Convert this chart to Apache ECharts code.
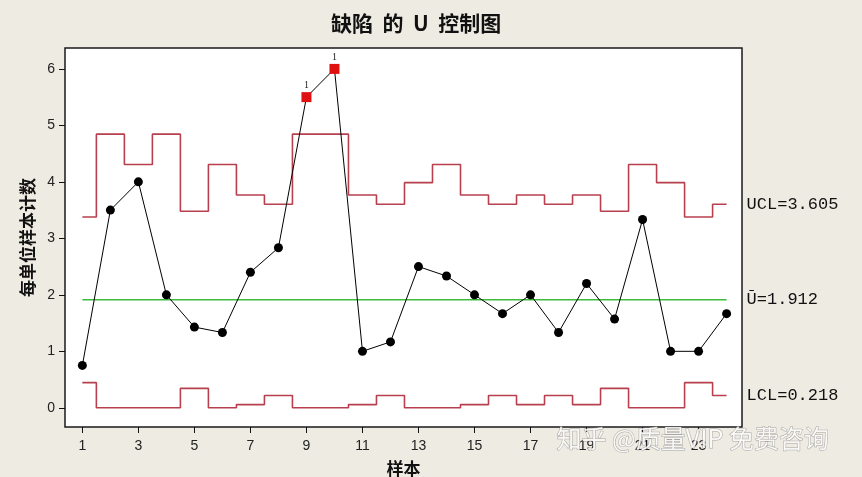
<!DOCTYPE html>
<html>
<head>
<meta charset="utf-8">
<script src="https://cdn.jsdelivr.net/npm/echarts@6/dist/echarts.min.js"></script>
<style>
html,body{margin:0;padding:0;background:#EEEBE2;}
#chart{width:862px;height:477px;}
</style>
</head>
<body>
<div id="chart"></div>
<script>
const samples = [1,2,3,4,5,6,7,8,9,10,11,12,13,14,15,16,17,18,19,20,21,22,23,24];
const uValues = [0.75,3.5,4.0,2.0,1.429,1.333,2.4,2.833,5.5,6.0,1.0,1.167,2.5,2.333,2.0,1.667,2.0,1.333,2.2,1.571,3.333,1.0,1.0,1.667];
const uclValues = [3.379,4.845,4.307,4.845,3.480,4.307,3.767,3.605,4.845,4.845,3.767,3.605,3.986,4.307,3.767,3.605,3.767,3.605,3.767,3.480,4.307,3.986,3.379,3.605];
const lclValues = [0.445,0,0,0,0.344,0,0.057,0.218,0,0,0.057,0.218,0,0,0.057,0.218,0.057,0.218,0.057,0.344,0,0,0.445,0.218];
const centerValues = [1.912,1.912,1.912,1.912,1.912,1.912,1.912,1.912,1.912,1.912,1.912,1.912,1.912,1.912,1.912,1.912,1.912,1.912,1.912,1.912,1.912,1.912,1.912,1.912];
const flaggedSamples = [9, 10];
const xTickLabels = [1,3,5,7,9,11,13,15,17,19,21,23];
const yTickLabels = [0,1,2,3,4,5,6];

const chart = echarts.init(document.getElementById('chart'), null, {renderer:'canvas'});

const pts = samples.map((s, i) => {
  const flagged = flaggedSamples.indexOf(s) >= 0;
  if (!flagged) return [s, uValues[i]];
  return {
    value: [s, uValues[i]],
    symbol: 'rect',
    symbolSize: 10,
    itemStyle: {color: '#E01010'},
    label: {show: true, formatter: '1', position: 'top', distance: 2, fontSize: 10, color: '#222', fontFamily: 'Liberation Serif'}
  };
});

const monoLabel = (text) => ({
  show: true,
  formatter: text,
  distance: 20,
  fontFamily: 'Liberation Mono',
  fontSize: 17,
  color: '#111',
  align: 'left'
});

const option = {
  backgroundColor: '#EEEBE2',
  animation: false,
  title: {
    text: '缺陷  的  U  控制图',
    left: 326, top: 8,
    textStyle: {fontFamily: 'Noto Sans CJK SC', fontWeight: 'bold', fontSize: 21, color: '#111'}
  },
  grid: {
    left: 65, top: 48, width: 677, height: 379,
    outerBoundsMode: 'none', containLabel: false,
    show: true, backgroundColor: '#FFFFFF', borderColor: '#1a1a1a', borderWidth: 1.5
  },
  xAxis: {
    type: 'value', min: 0.38, max: 24.55,
    name: '样本', nameLocation: 'middle', nameGap: 33,
    nameTextStyle: {fontFamily: 'Noto Sans CJK SC', fontWeight: 'bold', fontSize: 17, color: '#111'},
    axisLine: {show: false, onZero: false},
    axisTick: {show: true, inside: false, length: 6, customValues: xTickLabels, lineStyle: {color: '#111', width: 1}},
    axisLabel: {customValues: xTickLabels, margin: 12, fontFamily: 'Liberation Sans', fontSize: 14, color: '#222'},
    splitLine: {show: false}
  },
  yAxis: {
    type: 'value', min: -0.34, max: 6.37,
    name: '每单位样本计数', nameLocation: 'middle', nameGap: 27, nameRotate: 90,
    nameTextStyle: {fontFamily: 'Noto Sans CJK SC', fontWeight: 'bold', fontSize: 17, color: '#111'},
    axisLine: {show: false, onZero: false},
    axisTick: {show: true, inside: false, length: 6, customValues: yTickLabels, lineStyle: {color: '#111', width: 1}},
    axisLabel: {customValues: yTickLabels, margin: 10, fontFamily: 'Liberation Sans', fontSize: 14, color: '#222'},
    splitLine: {show: false}
  },
  series: [
    {
      name: 'UCL', type: 'line', step: 'middle', showSymbol: false, symbol: 'none',
      data: samples.map((s, i) => [s, uclValues[i]]),
      lineStyle: {color: '#B8404E', width: 1.6},
      endLabel: monoLabel('UCL=3.605'),
      z: 2
    },
    {
      name: 'LCL', type: 'line', step: 'middle', showSymbol: false, symbol: 'none',
      data: samples.map((s, i) => [s, lclValues[i]]),
      lineStyle: {color: '#B8404E', width: 1.6},
      endLabel: monoLabel('LCL=0.218'),
      z: 2
    },
    {
      name: 'Center', type: 'line', showSymbol: false, symbol: 'none',
      data: samples.map((s, i) => [s, centerValues[i]]),
      lineStyle: {color: '#3DBB3D', width: 1.6},
      endLabel: monoLabel('Ū=1.912'),
      z: 2
    },
    {
      name: 'U', type: 'line', data: pts,
      symbol: 'circle', symbolSize: 9,
      itemStyle: {color: '#000'},
      lineStyle: {color: '#000', width: 1},
      z: 5
    }
  ],
  graphic: [
    {
      type: 'text', left: 556, top: 425, silent: true, z: 100,
      style: {
        text: '知乎 @质量VIP 免费咨询',
        fontFamily: 'Noto Sans CJK SC', fontSize: 25,
        fill: 'rgba(255,255,255,0.85)', stroke: 'rgba(110,110,110,0.55)', lineWidth: 1
      }
    }
  ]
};
chart.setOption(option);
</script>
</body>
</html>
